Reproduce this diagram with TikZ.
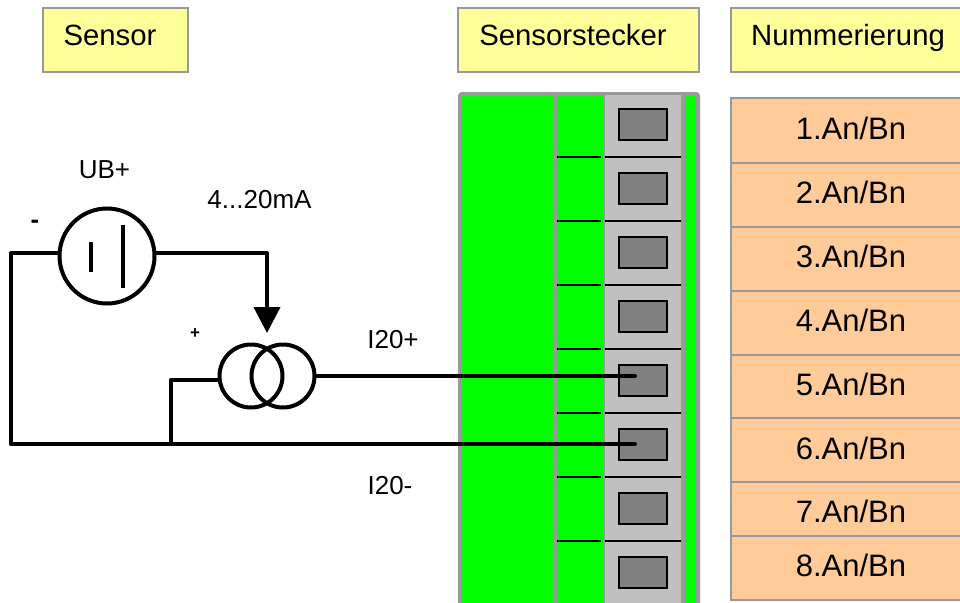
\documentclass[tikz,border=0pt]{standalone}
\usepackage{fontspec}
\setmainfont{Liberation Sans}
\usetikzlibrary{arrows.meta,positioning}
\definecolor{framegray}{HTML}{999999}
\definecolor{slotgray}{HTML}{C0C0C0}
\definecolor{termgray}{HTML}{808080}
\definecolor{headyellow}{HTML}{FFFF99}
\definecolor{numorange}{HTML}{FFCC99}
\tikzset{%
	headbox/.style  = {draw=framegray, line width=1.5pt, fill=headyellow, inner sep=0pt, minimum height=64pt, text height=21pt, text depth=10pt, font=\fontsize{29.3}{31}\selectfont},
	numbox/.style   = {draw=framegray, line width=1.5pt, fill=numorange, inner sep=0pt, minimum width=240pt, text depth=0pt, font=\fontsize{31}{33}\selectfont},
	terminal/.style = {draw=black, line width=2pt, fill=termgray, inner sep=0pt, minimum width=48pt, minimum height=31pt},
	source/.style   = {draw=black, circle, line width=4pt, fill=none, inner sep=0pt},
	label/.style    = {inner sep=0pt, font=\fontsize{26}{28}\selectfont},
	wire/.style     = {line width=4pt, line cap=round, line join=round},
	divider/.style  = {line width=1.7pt},
}
\begin{document}
\begin{tikzpicture}[x=1pt,y=-1pt]
	\useasboundingbox (0,0) rectangle (960,602);
	\clip (0,0) rectangle (960,602);
	
	% header
	\node[headbox, minimum width=145pt] (sensor) at (115.5,40) {\hspace*{-11pt}Sensor};
	\node[headbox, minimum width=241pt] (stecker) at (578.5,40) {\hspace*{-11pt}Sensorstecker};
	\node[headbox, minimum width=240pt] (nummer) at (851,40) {\hspace*{-6pt}Nummerierung};
	
	% connector body
	\draw[fill=green, draw=framegray, line width=4pt, rounded corners=2pt] (460,94) rectangle (698,610);
	\fill[framegray] (553,95) rectangle (557,610);
	\fill[framegray] (603,95) rectangle (685,610);
	\fill[slotgray] (605,95) rectangle (681,610);
	
	\draw[divider] (557,157) -- (601,157);
	\draw[divider] (605,157) -- (681,157);
	\draw[divider] (557,221) -- (601,221);
	\draw[divider] (605,221) -- (681,221);
	\draw[divider] (557,285) -- (601,285);
	\draw[divider] (605,285) -- (681,285);
	\draw[divider] (557,349) -- (601,349);
	\draw[divider] (605,349) -- (681,349);
	\draw[divider] (557,413) -- (601,413);
	\draw[divider] (605,413) -- (681,413);
	\draw[divider] (557,477) -- (601,477);
	\draw[divider] (605,477) -- (681,477);
	\draw[divider] (557,541) -- (601,541);
	\draw[divider] (605,541) -- (681,541);
	
	\node[terminal] (term1) at (643,124.7) {};
	\node[terminal] (term2) at (643,188.7) {};
	\node[terminal] (term3) at (643,252.7) {};
	\node[terminal] (term4) at (643,316.7) {};
	\node[terminal] (term5) at (643,380.7) {};
	\node[terminal] (term6) at (643,444.7) {};
	\node[terminal] (term7) at (643,508.7) {};
	\node[terminal] (term8) at (643,572.7) {};
	
	% numbering
	\node[numbox, minimum height=65pt, text height=18pt] (num1) at (851,130.5) {1.An/Bn};
	\node[numbox, minimum height=64pt, text height=17pt] (num2) at (851,195) {2.An/Bn};
	\node[numbox, minimum height=64pt, text height=17pt] (num3) at (851,259) {3.An/Bn};
	\node[numbox, minimum height=64pt, text height=17pt] (num4) at (851,323) {4.An/Bn};
	\node[numbox, minimum height=63pt, text height=18pt] (num5) at (851,386.5) {5.An/Bn};
	\node[numbox, minimum height=64pt, text height=18pt] (num6) at (851,450) {6.An/Bn};
	\node[numbox, minimum height=54pt, text height=27pt] (num7) at (851,509) {7.An/Bn};
	\node[numbox, minimum height=64pt, text height=17pt] (num8) at (851,568) {8.An/Bn};
	
	% circuit
	\node[source, minimum size=95pt] (ub) at (107,256) {};
	\node[source, minimum size=63pt] (ileft) at (251,376) {};
	\node[source, minimum size=63pt] (iright) at (283,376) {};
	\draw[wire, line cap=butt] (90.5,242) -- (90.5,272);
	\draw[wire, line cap=butt] (123,225) -- (123,288);
	
	\coordinate (ubneg) at (ub.west |- 0,253);
	\coordinate (ubpos) at (ub.east |- 0,253);
	\coordinate (cornerleft) at (11,253);
	\coordinate (cornerbottom) at (11,444);
	\coordinate (junction) at (171,444);
	\coordinate (cornerpos) at (171,380);
	\coordinate (iin) at (219,380);
	\coordinate (bend) at (267,253);
	\coordinate (tip) at (267,333);
	\coordinate (plugplus) at (635,376);
	\coordinate (plugminus) at (635,444);
	
	\draw[wire] (ubneg) -- (cornerleft) -- (cornerbottom) -- (plugminus);
	\draw[wire] (junction) -- (cornerpos) -- (iin);
	\draw[wire, -{Triangle[length=26pt,width=26pt]}] (ubpos) -- (bend) -- (tip);
	\draw[wire] (iright.east) -- (plugplus);
	
	\node[label] (ublabel) at (104.5,169.5) {UB+};
	\node[label] (current) at (259.5,200) {4...20mA};
	\node[inner sep=0pt, font=\bfseries\fontsize{26}{28}\selectfont] (minus) at (35,224) {-};
	\node[inner sep=0pt, font=\bfseries\fontsize{17}{19}\selectfont] (plus) at (195,334) {+};
	\node[label] (iplus) at (393,340) {I20+};
	\node[label] (iminus) at (390,485.5) {I20-};
\end{tikzpicture}
\end{document}
